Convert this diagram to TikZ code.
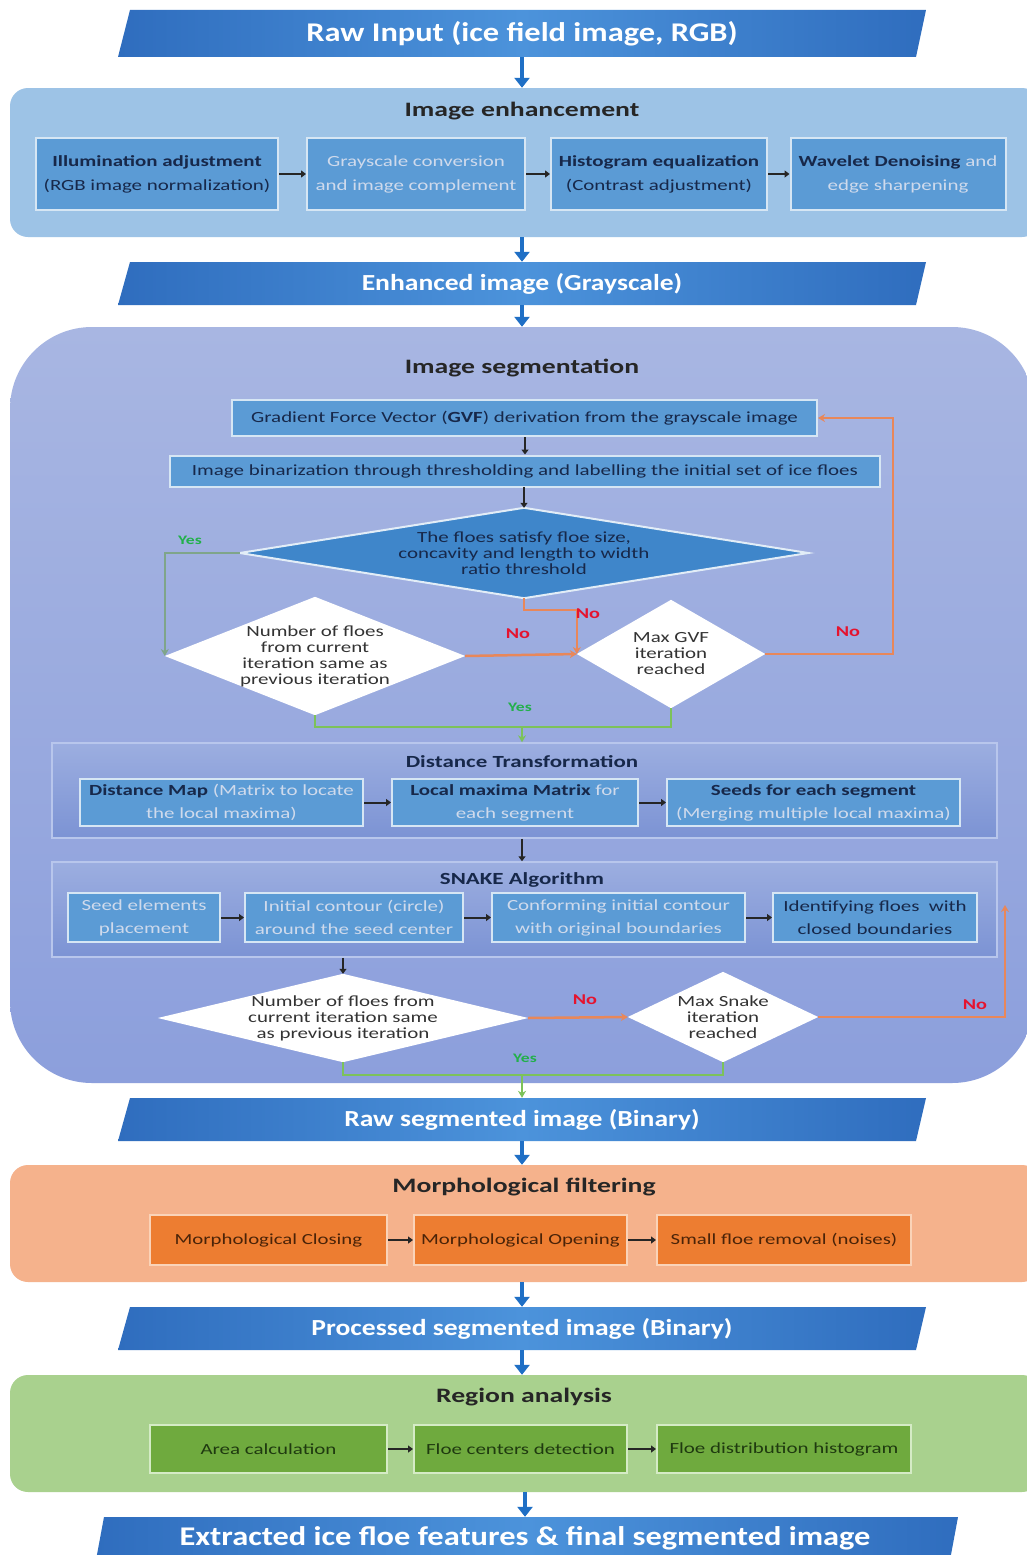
\documentclass[tikz,border=0pt]{standalone}
\usepackage{fontspec}
\setmainfont{Carlito}[FakeStretch=1.35]
\newfontfamily\bnfont{Carlito}[FakeStretch=1.2]
\usetikzlibrary{arrows.meta,calc}
\definecolor{bnEdge}{HTML}{2F6DBE}
\definecolor{bnMid}{HTML}{4C93DB}
\definecolor{arBlue}{HTML}{1F6FC5}
\definecolor{enhPanel}{HTML}{9DC3E6}
\definecolor{boxBlue}{HTML}{5B9BD5}
\definecolor{txtDark}{HTML}{17284A}
\definecolor{txtLight}{HTML}{CFDAEC}
\definecolor{segTop}{HTML}{A8B6E2}
\definecolor{segBot}{HTML}{8C9FDC}
\definecolor{subTop}{HTML}{9CAEE0}
\definecolor{subBot}{HTML}{7C93D4}
\definecolor{subLine}{HTML}{B8C6EC}
\definecolor{dmBlue}{HTML}{3F86CA}
\definecolor{lnOrange}{HTML}{E8875A}
\definecolor{lnGreen}{HTML}{7CC25A}
\definecolor{lnGray}{HTML}{7FA58A}
\definecolor{noRed}{HTML}{E5132E}
\definecolor{yesGreen}{HTML}{22B04B}
\definecolor{morPanel}{HTML}{F5B28C}
\definecolor{morBox}{HTML}{ED7D31}
\definecolor{morLine}{HTML}{FAD3B8}
\definecolor{morTxt}{HTML}{4A2308}
\definecolor{regPanel}{HTML}{A9D18E}
\definecolor{regBox}{HTML}{6FAA3E}
\definecolor{regLine}{HTML}{D5EBC6}
\definecolor{regTxt}{HTML}{1F3A10}
\tikzset{
 bigarrow/.style={draw=arBlue, line width=4.5pt, -{Triangle[width=15pt,length=10pt]}},
 smallarrow/.style={draw=black!85, line width=2pt, -{Triangle[width=7pt,length=5pt]}},
 orangeline/.style={draw=lnOrange, line width=2.5pt, -{Stealth[width=8pt,length=7pt]}},
 greenline/.style={draw=lnGreen, line width=2.5pt},
 greenarrow/.style={draw=lnGreen, line width=2.5pt, -{Stealth[width=8pt,length=7pt]}},
 grayarrow/.style={draw=lnGray, line width=2.5pt, -{Stealth[width=8pt,length=7pt]}},
 bannertext/.style={inner sep=0, minimum width=800, minimum height=47, text=white, font=\bnfont\fontsize{23}{27}\selectfont\bfseries},
 paneltitle/.style={inner sep=0, text=black!85, font=\fontsize{20.5}{24}\selectfont\bfseries},
 subtitle/.style={inner sep=0, text=txtDark, font=\fontsize{17}{20}\selectfont\bfseries},
 bluebox/.style={draw=white!75!boxBlue, line width=2pt, fill=boxBlue, inner sep=0, align=center, text=txtDark},
 morbox/.style={draw=morLine, line width=2pt, fill=morBox, inner sep=0, align=center, text=morTxt, font=\fontsize{15.4}{20}\selectfont},
 regbox/.style={draw=regLine, line width=2pt, fill=regBox, inner sep=0, align=center, text=regTxt, font=\fontsize{15.5}{20}\selectfont},
 dframe/.style={inner sep=0, draw=none},
 dtext/.style={inner sep=0, align=center, text=black!80, font=\fontsize{15.5}{16}\selectfont},
 nolabel/.style={inner sep=0, text=noRed, font=\fontsize{15}{18}\selectfont\bfseries},
 yeslabel/.style={inner sep=0, text=yesGreen, font=\fontsize{13}{16}\selectfont\bfseries},
}
\newcommand{\lt}[1]{\textcolor{txtLight}{#1}}
\begin{document}
\begin{tikzpicture}[x=1pt,y=-1pt]
\useasboundingbox (0,0) rectangle (1026,1555);
\fill[white] (0,0) rectangle (1026,1555);

% ---------- panels ----------
\node[rectangle, rounded corners=18, fill=enhPanel, minimum width=1030, minimum height=149, inner sep=0] (enh) at (525,162.5) {};
\node[rectangle, rounded corners=82, top color=segTop, bottom color=segBot, minimum width=1024, minimum height=756, inner sep=0] (seg) at (522,705) {};
\node[rectangle, rounded corners=18, fill=morPanel, minimum width=1030, minimum height=117, inner sep=0] (mor) at (525,1223.5) {};
\node[rectangle, rounded corners=18, fill=regPanel, minimum width=1030, minimum height=117, inner sep=0] (reg) at (525,1433.5) {};
\node[rectangle, top color=subTop, bottom color=subBot, draw=subLine, line width=1.5pt, minimum width=945, minimum height=95, inner sep=0] (dtP) at (524.5,790.5) {};
\node[rectangle, top color=subTop, bottom color=subBot, draw=subLine, line width=1.5pt, minimum width=945, minimum height=95, inner sep=0] (snP) at (524.5,909.5) {};

% ---------- banners ----------
\shade[left color=bnEdge, right color=bnEdge, middle color=bnMid] (130,10) -- (926,10) -- (916,57) -- (118,57) -- cycle;
\node[bannertext, font=\bnfont\fontsize{27}{31}\selectfont\bfseries] (b1) at (522,33.5) {Raw Input (ice field image, RGB)};
\shade[left color=bnEdge, right color=bnEdge, middle color=bnMid] (130,262) -- (926,262) -- (916,305) -- (118,305) -- cycle;
\node[bannertext, minimum height=43] (b2) at (522,283.5) {Enhanced image (Grayscale)};
\shade[left color=bnEdge, right color=bnEdge, middle color=bnMid] (130,1098) -- (926,1098) -- (916,1141) -- (118,1141) -- cycle;
\node[bannertext, minimum height=43] (b3) at (522,1119.5) {Raw segmented image (Binary)};
\shade[left color=bnEdge, right color=bnEdge, middle color=bnMid] (130,1307) -- (926,1307) -- (916,1350) -- (118,1350) -- cycle;
\node[bannertext, minimum height=43] (b4) at (522,1328.5) {Processed segmented image (Binary)};
\shade[left color=bnEdge, right color=bnEdge, middle color=bnMid] (104,1517) -- (958,1517) -- (950,1560) -- (96,1560) -- cycle;
\node[bannertext, minimum height=43, font=\bnfont\fontsize{27}{31}\selectfont\bfseries] (b5) at (525,1538.5) {Extracted ice floe features \& final segmented image};

% ---------- titles ----------
\node[paneltitle] (tenh) at (522,111) {Image enhancement};
\node[paneltitle] (tseg) at (522,368) {Image segmentation};
\node[subtitle] (tdt) at (522,762) {Distance Transformation};
\node[subtitle] (tsn) at (522,880) {SNAKE Algorithm};
\node[paneltitle] (tmor) at (524,1187) {Morphological filtering};
\node[paneltitle] (treg) at (524,1397) {Region analysis};

% ---------- enhancement boxes ----------
\begin{scope}[every node/.append style={font=\fontsize{15.5}{24}\selectfont}]
\node[bluebox, minimum width=242, minimum height=72] (e1) at (157,174) {\textbf{Illumination adjustment}\\(RGB image normalization)};
\node[bluebox, minimum width=218, minimum height=72] (e2) at (416,174) {\lt{Grayscale conversion}\\\lt{and image complement}};
\node[bluebox, minimum width=216, minimum height=72] (e3) at (659,174) {\textbf{Histogram equalization}\\(Contrast adjustment)};
\node[bluebox, minimum width=215, minimum height=72] (e4) at (898,174) {\textbf{Wavelet Denoising} \lt{and}\\\lt{edge sharpening}};
\end{scope}

% ---------- segmentation boxes ----------
\node[bluebox, minimum width=585, minimum height=36, font=\fontsize{15.5}{18}\selectfont] (gvf) at (524.5,418) {Gradient Force Vector (\textbf{GVF}) derivation from the grayscale image};
\node[bluebox, minimum width=710, minimum height=31, font=\fontsize{15.5}{18}\selectfont] (bin) at (525,471) {Image binarization through thresholding and labelling the initial set of ice floes};

% diamonds
\node[dframe, minimum width=568, minimum height=90] (d1) at (524,553) {};
\fill[dmBlue, draw=white!85!dmBlue, line width=2pt] (d1.west) -- (d1.north) -- (d1.east) -- (d1.south) -- cycle;
\node[dtext, text=txtDark] (d1t) at (d1) {The floes satisfy floe size,\\concavity and length to width\\ratio threshold};

\node[dframe, minimum width=300, minimum height=118] (d2) at (315,656) {};
\fill[white] (d2.west) -- (d2.north) -- (d2.east) -- (d2.south) -- cycle;
\node[dtext] (d2t) at (d2) {Number of floes\\from current\\iteration same as\\previous iteration};

\node[dframe, minimum width=188, minimum height=108] (d3) at (671,654) {};
\fill[white] (d3.west) -- (d3.north) -- (d3.east) -- (d3.south) -- cycle;
\node[dtext] (d3t) at (d3) {Max GVF\\iteration\\reached};

% distance transformation boxes
\begin{scope}[every node/.append style={font=\fontsize{15.5}{23}\selectfont}]
\node[bluebox, minimum width=283, minimum height=47] (dt1) at (221.5,802.5) {\textbf{Distance Map} \lt{(Matrix to locate}\\\lt{the local maxima)}};
\node[bluebox, minimum width=246, minimum height=47] (dt2) at (515,802.5) {\textbf{Local maxima Matrix} \lt{for}\\\lt{each segment}};
\node[bluebox, minimum width=293, minimum height=47] (dt3) at (813.5,802.5) {\textbf{Seeds for each segment}\\\lt{(Merging multiple local maxima)}};
% snake boxes
\node[bluebox, minimum width=152, minimum height=49] (s1) at (144,917.5) {\lt{Seed elements}\\\lt{placement}};
\node[bluebox, minimum width=218, minimum height=49] (s2) at (354,917.5) {\lt{Initial contour (circle)}\\\lt{around the seed center}};
\node[bluebox, minimum width=253, minimum height=49] (s3) at (618.5,917.5) {\lt{Conforming initial contour}\\\lt{with original boundaries}};
\node[bluebox, minimum width=204, minimum height=49] (s4) at (875,917.5) {Identifying floes\ \ with\\closed boundaries};
\end{scope}

\node[dframe, minimum width=370, minimum height=88] (d4) at (343,1018) {};
\fill[white] (d4.west) -- (d4.north) -- (d4.east) -- (d4.south) -- cycle;
\node[dtext] (d4t) at (d4) {Number of floes from\\current iteration same\\as previous iteration};

\node[dframe, minimum width=190, minimum height=90] (d5) at (723,1017) {};
\fill[white] (d5.west) -- (d5.north) -- (d5.east) -- (d5.south) -- cycle;
\node[dtext] (d5t) at (d5) {Max Snake\\iteration\\reached};

% ---------- morphological & region boxes ----------
\node[morbox, minimum width=237, minimum height=50] (m1) at (268.5,1240) {Morphological Closing};
\node[morbox, minimum width=213, minimum height=50] (m2) at (520.5,1240) {Morphological Opening};
\node[morbox, minimum width=254, minimum height=50] (m3) at (784,1240) {Small floe removal (noises)};
\node[regbox, minimum width=237, minimum height=48] (r1) at (268.5,1449) {Area calculation};
\node[regbox, minimum width=213, minimum height=48] (r2) at (520.5,1449) {Floe centers detection};
\node[regbox, minimum width=254, minimum height=48] (r3) at (784,1449) {Floe distribution histogram};

% ---------- coordinates ----------
\coordinate (j1) at (522,727);
\coordinate (j2) at (522,1075);
\coordinate (sr) at (1005,905);

% ---------- big blue arrows ----------
\draw[bigarrow] (b1.south) -- (b1.south |- enh.north);
\draw[bigarrow] (b2.north |- enh.south) -- (b2.north);
\draw[bigarrow] (b2.south) -- (b2.south |- seg.north);
\draw[bigarrow] (b3.south) -- (b3.south |- mor.north);
\draw[bigarrow] (b4.north |- mor.south) -- (b4.north);
\draw[bigarrow] (b4.south) -- (b4.south |- reg.north);
\draw[bigarrow] (b5.north |- reg.south) -- (b5.north);

% ---------- small black arrows ----------
\draw[smallarrow] (e1) -- (e2);
\draw[smallarrow] (e2) -- (e3);
\draw[smallarrow] (e3) -- (e4);
\draw[smallarrow] (gvf.south -| bin.north) -- (bin.north);
\draw[smallarrow] (bin.south) -- (bin.south -| d1.north) -- (d1.north);
\draw[smallarrow] (dtP.south -| j1) -- (snP.north -| j1);
\draw[smallarrow] (dt1) -- (dt2);
\draw[smallarrow] (dt2) -- (dt3);
\draw[smallarrow] (s1) -- (s2);
\draw[smallarrow] (s2) -- (s3);
\draw[smallarrow] (s3) -- (s4);
\draw[smallarrow] (d4.north |- snP.south) -- (d4.north);
\draw[smallarrow] (m1) -- (m2);
\draw[smallarrow] (m2) -- (m3);
\draw[smallarrow] (r1) -- (r2);
\draw[smallarrow] (r2) -- (r3);

% ---------- decision connectors ----------
\draw[grayarrow] (d1.west) -| (d2.west);
\draw[orangeline] (d1.south) -- ++(0,12) -| (d3.west);
\draw[orangeline] (d2.east) -- (d3.west);
\draw[orangeline] (d3.east) -- ++(128,0) |- (gvf.east);
\draw[greenline] (d2.south) |- (j1) -| (d3.south);
\draw[greenarrow] (j1) -- (j1 |- dtP.north);
\draw[orangeline] (d4.east) -- (d5.west);
\draw[orangeline] (d5.east) -| (sr);
\draw[greenline] (d4.south) |- (j2) -| (d5.south);
\draw[greenarrow] (j2) -- (j2 |- b3.north);

% ---------- labels ----------
\node[yeslabel] (y1) at (190,540) {Yes};
\node[nolabel] (n1) at (588,614) {No};
\node[nolabel] (n2) at (518,634) {No};
\node[nolabel] (n3) at (848,632) {No};
\node[yeslabel] (y2) at (520,707) {Yes};
\node[nolabel] (n4) at (585,1000) {No};
\node[nolabel] (n5) at (975,1005) {No};
\node[yeslabel] (y3) at (525,1058) {Yes};
\end{tikzpicture}
\end{document}
